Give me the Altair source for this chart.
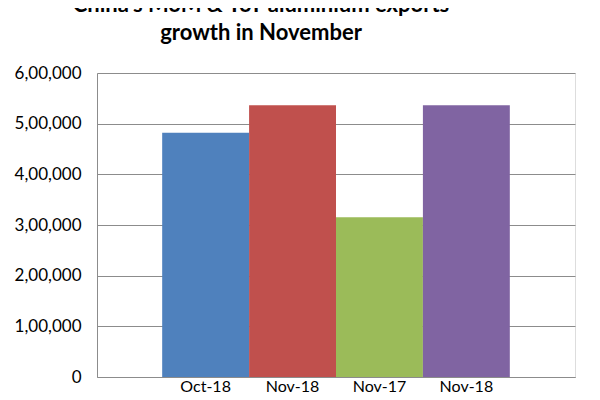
import json
import altair as alt
import pandas as pd

labels = ["Oct-18", "Nov-18", "Nov-17", "Nov-18"]
values = [482000, 536500, 315500, 536500]
colors = ["#4F81BD", "#C0504D", "#9BBB59", "#8064A2"]
title_lines = ["China's MoM & YoY aluminium exports", "growth in November"]

df = pd.DataFrame({"idx": list(range(len(labels))), "label": labels, "value": values})

label_expr = json.dumps(labels) + "[datum.value]"
FONT = "Lato"

bars = alt.Chart(df).mark_bar().encode(
    x=alt.X("idx:O", title=None,
            scale=alt.Scale(paddingInner=0, paddingOuter=0.75),
            axis=alt.Axis(labelExpr=label_expr, labelAngle=0, ticks=False,
                          domainColor="#8c8c8c", labelFont=FONT, labelFontSize=16,
                          labelColor="#000000", labelPadding=1)),
    y=alt.Y("value:Q", title=None,
            scale=alt.Scale(domain=[0, 600000], nice=False),
            axis=alt.Axis(values=[0, 100000, 200000, 300000, 400000, 500000, 600000],
                          labelExpr="datum.value == 0 ? '0' : format(datum.value / 100000, 'd') + ',00,000'",
                          ticks=False, domainColor="#8c8c8c", gridColor="#8c8c8c",
                          labelFont=FONT, labelFontSize=17, labelColor="#000000",
                          labelPadding=16)),
    color=alt.Color("idx:O", scale=alt.Scale(range=colors), legend=None),
)

t1 = alt.Chart(pd.DataFrame({"t": [title_lines[0]]})).mark_text(
    font=FONT, fontSize=22, fontWeight="bold", align="center", baseline="alphabetic", color="#000000"
).encode(x=alt.value(164), y=alt.value(-61), text="t:N")

t2 = alt.Chart(pd.DataFrame({"t": [title_lines[1]]})).mark_text(
    font=FONT, fontSize=22, fontWeight="bold", align="center", baseline="alphabetic", color="#000000"
).encode(x=alt.value(164), y=alt.value(-33), text="t:N")

chart = alt.layer(bars, t1, t2).properties(
    width=478, height=304,
    autosize=alt.AutoSizeParams(type="none"),
    padding={"left": 89, "top": 65, "right": 10, "bottom": 17},
).configure_view(stroke=None).configure(background="white")

chart.save("out.html", embed_options={"renderer": "svg", "actions": False})
